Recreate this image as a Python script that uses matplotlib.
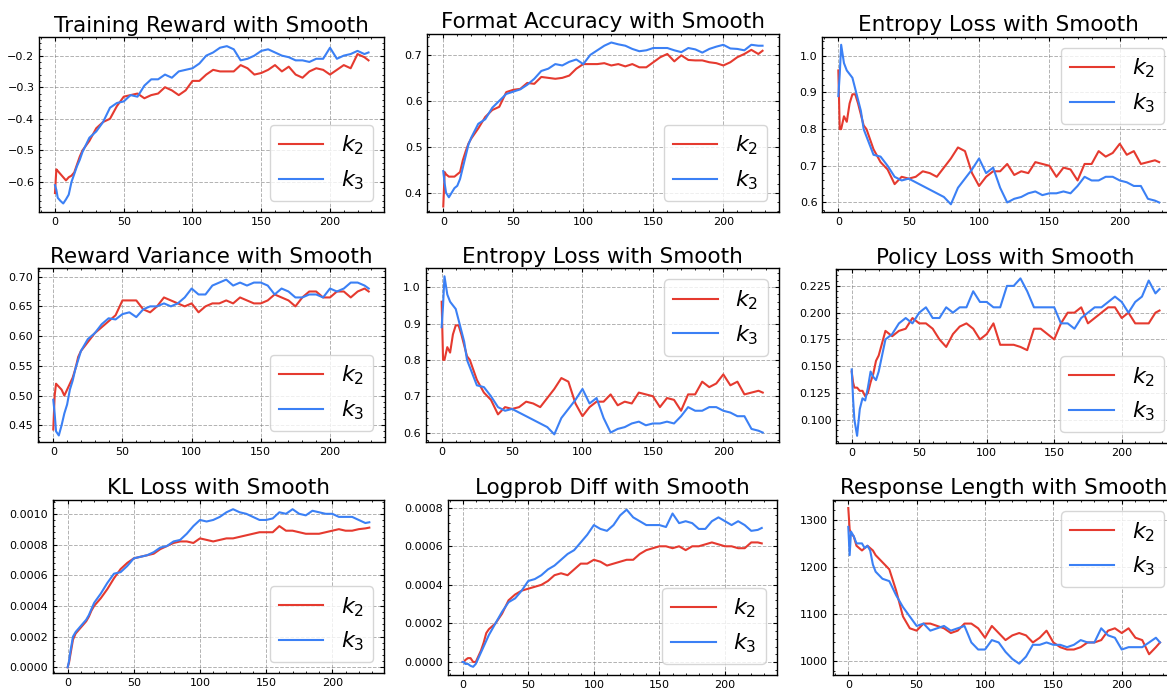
import matplotlib
matplotlib.use("Agg")
import matplotlib.pyplot as plt
from matplotlib.ticker import AutoMinorLocator, MultipleLocator

# training steps shared by every panel
steps = [0, 1, 2, 4, 6, 8, 10, 12, 14, 16, 18,
         20, 25, 30, 35, 40, 45, 50, 55, 60, 65, 70, 75, 80, 85, 90, 95,
         100, 105, 110, 115, 120, 125, 130, 135, 140, 145, 150, 155, 160,
         165, 170, 175, 180, 185, 190, 195, 200, 205, 210, 215, 220, 225, 228]

reward_k2 = [-0.635, -0.56, -0.565, -0.575, -0.585, -0.595, -0.585, -0.58, -0.57, -0.545, -0.52,
             -0.5, -0.47, -0.43, -0.41, -0.40, -0.36, -0.33, -0.325, -0.32, -0.335, -0.325, -0.32,
             -0.3, -0.31, -0.325, -0.31, -0.28, -0.28, -0.26, -0.245, -0.25, -0.25, -0.25, -0.23,
             -0.24, -0.26, -0.255, -0.245, -0.23, -0.25, -0.235, -0.26, -0.27, -0.25, -0.24,
             -0.245, -0.26, -0.245, -0.23, -0.24, -0.195, -0.205, -0.215]
reward_k3 = [-0.61, -0.625, -0.65, -0.66, -0.668, -0.655, -0.64, -0.6, -0.575, -0.55, -0.53,
             -0.505, -0.46, -0.44, -0.41, -0.365, -0.35, -0.345, -0.325, -0.33, -0.295, -0.275,
             -0.275, -0.26, -0.27, -0.25, -0.245, -0.24, -0.225, -0.2, -0.19, -0.175, -0.17,
             -0.18, -0.215, -0.21, -0.2, -0.185, -0.18, -0.19, -0.2, -0.205, -0.215, -0.215,
             -0.22, -0.21, -0.21, -0.175, -0.21, -0.2, -0.195, -0.185, -0.195, -0.19]

format_k2 = [0.37, 0.445, 0.44, 0.435, 0.435, 0.435, 0.44, 0.445, 0.471, 0.49, 0.507,
             0.518, 0.54, 0.565, 0.58, 0.587, 0.619, 0.624, 0.626, 0.639, 0.637, 0.652, 0.65,
             0.648, 0.65, 0.655, 0.67, 0.68, 0.68, 0.68, 0.682, 0.677, 0.68, 0.675, 0.68, 0.673,
             0.673, 0.684, 0.695, 0.702, 0.686, 0.699, 0.689, 0.688, 0.688, 0.684, 0.682, 0.677,
             0.684, 0.695, 0.702, 0.711, 0.702, 0.709]
format_k3 = [0.447, 0.42, 0.4, 0.39, 0.4, 0.41, 0.415, 0.43, 0.455, 0.48, 0.505,
             0.52, 0.55, 0.56, 0.585, 0.6, 0.615, 0.62, 0.625, 0.635, 0.648, 0.665, 0.67, 0.68,
             0.677, 0.685, 0.69, 0.68, 0.7, 0.71, 0.72, 0.727, 0.723, 0.72, 0.713, 0.708, 0.71,
             0.715, 0.715, 0.715, 0.71, 0.706, 0.715, 0.712, 0.705, 0.713, 0.718, 0.722, 0.714,
             0.713, 0.71, 0.722, 0.72, 0.72]

entropy_k2 = [0.96, 0.80, 0.80, 0.835, 0.82, 0.87, 0.895, 0.895, 0.87, 0.84, 0.81,
              0.80, 0.745, 0.71, 0.69, 0.65, 0.67, 0.665, 0.67, 0.685, 0.68, 0.67, 0.695, 0.72,
              0.75, 0.74, 0.68, 0.645, 0.67, 0.685, 0.685, 0.705, 0.675, 0.685, 0.68, 0.71,
              0.705, 0.70, 0.67, 0.695, 0.69, 0.66, 0.705, 0.705, 0.74, 0.725, 0.735, 0.76,
              0.73, 0.74, 0.705, 0.71, 0.715, 0.71]
entropy_k3 = [0.89, 0.95, 1.03, 0.98, 0.96, 0.95, 0.94, 0.91, 0.88, 0.85, 0.80,
              0.78, 0.73, 0.725, 0.70, 0.67, 0.66, 0.665, 0.655, 0.645, 0.635, 0.625, 0.615,
              0.595, 0.64, 0.665, 0.69, 0.72, 0.68, 0.695, 0.64, 0.60, 0.61, 0.615, 0.625,
              0.63, 0.62, 0.625, 0.625, 0.63, 0.625, 0.645, 0.67, 0.66, 0.66, 0.67, 0.67,
              0.66, 0.655, 0.645, 0.645, 0.61, 0.605, 0.60]

variance_k2 = [0.443, 0.50, 0.52, 0.515, 0.51, 0.50, 0.51, 0.52, 0.53, 0.545, 0.565,
               0.575, 0.59, 0.605, 0.615, 0.625, 0.635, 0.66, 0.66, 0.66, 0.645, 0.64, 0.65,
               0.665, 0.66, 0.655, 0.65, 0.655, 0.64, 0.65, 0.655, 0.655, 0.66, 0.655, 0.665,
               0.66, 0.655, 0.655, 0.66, 0.67, 0.665, 0.66, 0.65, 0.665, 0.675, 0.675, 0.665,
               0.665, 0.675, 0.675, 0.665, 0.675, 0.68, 0.675]
variance_k3 = [0.493, 0.47, 0.44, 0.433, 0.45, 0.47, 0.485, 0.51, 0.525, 0.545, 0.56,
               0.575, 0.595, 0.605, 0.62, 0.63, 0.628, 0.637, 0.64, 0.632, 0.645, 0.65, 0.65,
               0.655, 0.65, 0.655, 0.665, 0.68, 0.67, 0.67, 0.685, 0.69, 0.695, 0.685, 0.69,
               0.685, 0.69, 0.69, 0.685, 0.67, 0.68, 0.675, 0.665, 0.665, 0.67, 0.67, 0.665,
               0.68, 0.675, 0.68, 0.69, 0.69, 0.685, 0.68]

policy_k2 = [0.145, 0.135, 0.13, 0.13, 0.127, 0.127, 0.122, 0.125, 0.135, 0.143, 0.155,
             0.16, 0.183, 0.178, 0.183, 0.185, 0.195, 0.19, 0.19, 0.185, 0.175, 0.168, 0.18,
             0.187, 0.19, 0.185, 0.175, 0.18, 0.19, 0.17, 0.17, 0.17, 0.168, 0.165, 0.185,
             0.185, 0.18, 0.175, 0.19, 0.20, 0.20, 0.205, 0.19, 0.195, 0.20, 0.205, 0.205,
             0.195, 0.20, 0.19, 0.19, 0.19, 0.20, 0.202]
policy_k3 = [0.147, 0.12, 0.10, 0.085, 0.11, 0.12, 0.118, 0.13, 0.145, 0.14, 0.137,
             0.145, 0.175, 0.18, 0.19, 0.195, 0.19, 0.20, 0.205, 0.195, 0.195, 0.205, 0.20,
             0.205, 0.205, 0.22, 0.21, 0.21, 0.205, 0.205, 0.225, 0.225, 0.232, 0.22, 0.205,
             0.205, 0.205, 0.205, 0.19, 0.19, 0.185, 0.195, 0.20, 0.205, 0.205, 0.21, 0.215,
             0.21, 0.20, 0.21, 0.215, 0.23, 0.218, 0.222]

kl_k2 = [0.0, 0.3e-4, 0.8e-4, 1.8e-4, 2.2e-4, 2.4e-4, 2.6e-4, 2.8e-4, 3.0e-4, 3.3e-4, 3.7e-4,
         4.0e-4, 4.5e-4, 5.1e-4, 5.8e-4, 6.4e-4, 6.8e-4, 7.1e-4, 7.2e-4, 7.3e-4, 7.4e-4,
         7.7e-4, 7.9e-4, 8.1e-4, 8.2e-4, 8.2e-4, 8.1e-4, 8.4e-4, 8.3e-4, 8.2e-4, 8.3e-4,
         8.4e-4, 8.4e-4, 8.5e-4, 8.6e-4, 8.7e-4, 8.8e-4, 8.8e-4, 8.8e-4, 9.2e-4, 8.9e-4,
         8.9e-4, 8.8e-4, 8.7e-4, 8.7e-4, 8.7e-4, 8.8e-4, 8.9e-4, 9.0e-4, 8.9e-4, 8.9e-4,
         9.0e-4, 9.05e-4, 9.1e-4]
kl_k3 = [0.0, 0.4e-4, 1.0e-4, 2.0e-4, 2.3e-4, 2.5e-4, 2.7e-4, 2.9e-4, 3.1e-4, 3.4e-4, 3.8e-4,
         4.2e-4, 4.8e-4, 5.5e-4, 6.1e-4, 6.2e-4, 6.6e-4, 7.1e-4, 7.2e-4, 7.3e-4, 7.5e-4,
         7.8e-4, 7.9e-4, 8.2e-4, 8.3e-4, 8.7e-4, 9.2e-4, 9.6e-4, 9.5e-4, 9.6e-4, 9.8e-4,
         10.1e-4, 10.3e-4, 10.1e-4, 10.0e-4, 9.8e-4, 9.6e-4, 9.6e-4, 9.7e-4, 10.1e-4,
         10.0e-4, 10.3e-4, 10.0e-4, 9.9e-4, 10.2e-4, 10.1e-4, 10.0e-4, 10.0e-4, 9.8e-4,
         9.8e-4, 9.8e-4, 9.6e-4, 9.4e-4, 9.45e-4]

logprob_k2 = [0.0, 0.0, 0.1e-4, 0.2e-4, 0.2e-4, 0.0, 0.0, 0.3e-4, 0.6e-4, 1.0e-4, 1.5e-4,
              1.7e-4, 2.0e-4, 2.5e-4, 3.2e-4, 3.5e-4, 3.7e-4, 3.8e-4, 3.9e-4, 4.0e-4, 4.2e-4,
              4.5e-4, 4.6e-4, 4.5e-4, 4.8e-4, 5.1e-4, 5.1e-4, 5.3e-4, 5.2e-4, 5.0e-4, 5.1e-4,
              5.2e-4, 5.3e-4, 5.3e-4, 5.6e-4, 5.8e-4, 5.9e-4, 6.0e-4, 6.0e-4, 5.9e-4, 6.0e-4,
              5.8e-4, 6.0e-4, 6.0e-4, 6.1e-4, 6.2e-4, 6.1e-4, 6.0e-4, 6.0e-4, 5.9e-4, 5.9e-4,
              6.2e-4, 6.2e-4, 6.15e-4]
logprob_k3 = [0.0, 0.0, -0.1e-4, -0.1e-4, -0.2e-4, -0.25e-4, -0.1e-4, 0.2e-4, 0.5e-4, 0.8e-4,
              1.1e-4, 1.4e-4, 2.0e-4, 2.6e-4, 3.1e-4, 3.3e-4, 3.7e-4, 4.2e-4, 4.3e-4, 4.5e-4,
              4.8e-4, 5.0e-4, 5.3e-4, 5.6e-4, 5.8e-4, 6.2e-4, 6.6e-4, 7.1e-4, 6.9e-4, 6.8e-4,
              7.1e-4, 7.6e-4, 7.9e-4, 7.5e-4, 7.3e-4, 7.1e-4, 7.1e-4, 7.1e-4, 7.0e-4, 7.7e-4,
              7.2e-4, 7.3e-4, 7.2e-4, 6.9e-4, 6.9e-4, 7.3e-4, 7.5e-4, 7.3e-4, 7.1e-4, 7.3e-4,
              7.1e-4, 6.8e-4, 6.85e-4, 6.95e-4]

length_k2 = [1325, 1280, 1270, 1265, 1245, 1240, 1235, 1240, 1245, 1240, 1235,
             1225, 1210, 1195, 1150, 1095, 1070, 1065, 1080, 1080, 1075, 1070, 1060, 1065,
             1080, 1080, 1070, 1050, 1075, 1060, 1045, 1055, 1060, 1055, 1040, 1050, 1065,
             1040, 1030, 1025, 1025, 1030, 1040, 1040, 1045, 1065, 1070, 1060, 1070, 1050,
             1045, 1015, 1030, 1040]
length_k3 = [1285, 1225, 1275, 1265, 1250, 1250, 1250, 1240, 1245, 1235, 1205,
             1190, 1175, 1170, 1140, 1115, 1095, 1075, 1080, 1065, 1070, 1075, 1065, 1070,
             1075, 1040, 1025, 1025, 1045, 1040, 1020, 1005, 995, 1010, 1035, 1035, 1040,
             1035, 1035, 1030, 1035, 1045, 1040, 1040, 1070, 1055, 1050, 1025, 1030, 1030,
             1030, 1040, 1050, 1040]

titles = ["Training Reward with Smooth", "Format Accuracy with Smooth", "Entropy Loss with Smooth",
          "Reward Variance with Smooth", "Entropy Loss with Smooth", "Policy Loss with Smooth",
          "KL Loss with Smooth", "Logprob Diff with Smooth", "Response Length with Smooth"]
series = [(reward_k2, reward_k3), (format_k2, format_k3), (entropy_k2, entropy_k3),
          (variance_k2, variance_k3), (entropy_k2, entropy_k3), (policy_k2, policy_k3),
          (kl_k2, kl_k3), (logprob_k2, logprob_k3), (length_k2, length_k3)]

# axes boxes in pixels: left, top, right, bottom
boxes = [(39.3, 37.3, 384.2, 212), (427.3, 34, 778.5, 212), (822.3, 36.7, 1175.2, 212),
         (37.5, 268.3, 384.5, 442), (425.6, 268.3, 778.8, 442), (836.3, 269.3, 1174.9, 443.3),
         (52.6, 500, 384.4, 673.3), (447.7, 500, 776.7, 675), (832.7, 500, 1175.6, 675)]
ylims = [(-0.695, -0.142), (0.358, 0.7455), (0.574, 1.052),
         (0.422, 0.714), (0.574, 1.052), (0.078, 0.2405),
         (-0.000039, 0.00109), (-0.0000675, 0.00084), (971, 1342)]
ysteps = [0.1, 0.1, 0.1, 0.05, 0.1, 0.025, 0.0002, 0.0002, 100]
legend_locs = ["lower right", "lower right", "upper right",
               "lower right", "upper right", "lower right",
               "lower right", "lower right", "upper right"]

RED = "#e53a2f"
BLUE = "#3b80f5"
W, H = 1167, 689

plt.rcParams["xtick.direction"] = "in"
plt.rcParams["ytick.direction"] = "in"
plt.rcParams["xtick.top"] = True
plt.rcParams["ytick.right"] = True
plt.rcParams["xtick.major.size"] = 3
plt.rcParams["ytick.major.size"] = 3
plt.rcParams["xtick.minor.size"] = 1.5
plt.rcParams["ytick.minor.size"] = 1.5
plt.rcParams["axes.linewidth"] = 1.0

fig = plt.figure(figsize=(W / 100, H / 100), dpi=100)

for i in range(9):
    l, t, r, b = boxes[i]
    ax = fig.add_axes([l / W, 1 - b / H, (r - l) / W, (b - t) / H])
    k2, k3 = series[i]
    ax.plot(steps, k2, color=RED, lw=1.5, label="$k_2$")
    ax.plot(steps, k3, color=BLUE, lw=1.5, label="$k_3$")
    ax.set_xlim(-11.4, 239.4)
    ax.set_ylim(*ylims[i])
    ax.set_xticks([0, 50, 100, 150, 200])
    ax.yaxis.set_major_locator(MultipleLocator(ysteps[i]))
    ax.xaxis.set_minor_locator(AutoMinorLocator(5))
    ax.yaxis.set_minor_locator(AutoMinorLocator(5))
    ax.tick_params(labelsize=8)
    ax.grid(True, linestyle="--", color="gray", alpha=0.6, linewidth=0.7)
    ax.set_title(titles[i], fontsize=15.5, pad=4)
    ax.legend(loc=legend_locs[i], fontsize=16)

fig.savefig("out.png", dpi=100)
